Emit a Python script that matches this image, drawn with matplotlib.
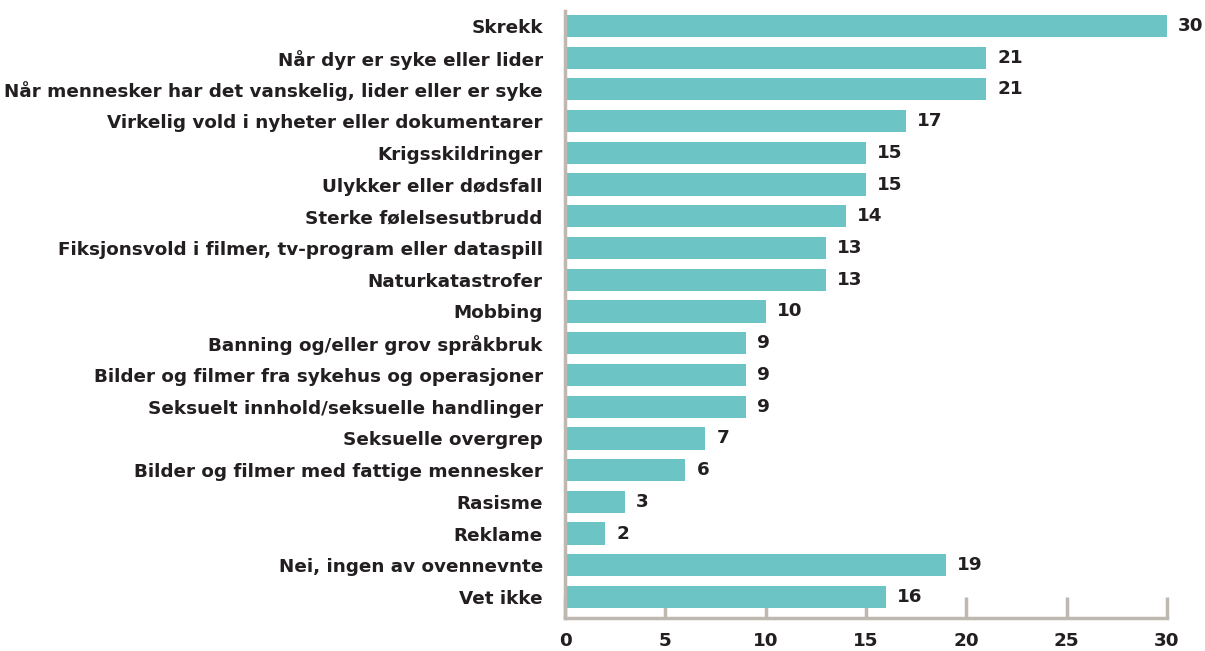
import matplotlib.pyplot as plt
import numpy as np

plt.rcParams['font.family'] = ['DejaVu Sans']

categories = [
    'Skrekk',
    'Når dyr er syke eller lider',
    'Når mennesker har det vanskelig, lider eller er syke',
    'Virkelig vold i nyheter eller dokumentarer',
    'Krigsskildringer',
    'Ulykker eller dødsfall',
    'Sterke følelsesutbrudd',
    'Fiksjonsvold i filmer, tv-program eller dataspill',
    'Naturkatastrofer',
    'Mobbing',
    'Banning og/eller grov språkbruk',
    'Bilder og filmer fra sykehus og operasjoner',
    'Seksuelt innhold/seksuelle handlinger',
    'Seksuelle overgrep',
    'Bilder og filmer med fattige mennesker',
    'Rasisme',
    'Reklame',
    'Nei, ingen av ovennevnte',
    'Vet ikke',
]
values = [30, 21, 21, 17, 15, 15, 14, 13, 13, 10, 9, 9, 9, 7, 6, 3, 2, 19, 16]
xticks = [0, 5, 10, 15, 20, 25, 30]

bar_color = '#6cc5c4'
text_color = '#231f20'
axis_color = '#bfb8b0'
fs = 13.2

fig = plt.figure(figsize=(12.05, 6.51), dpi=100)
ax = fig.add_axes([565 / 1205, 33 / 651, 602 / 1205, 607 / 651])
ax.set_axisbelow(True)

y = np.arange(len(categories))
ax.barh(y, values, height=0.7, color=bar_color, zorder=2)

# value labels to the right of each bar
for yi, v in zip(y, values):
    ax.text(v + 0.55, yi, str(v), va='center', ha='left', fontsize=fs,
            fontweight='bold', color=text_color)

ax.set_xlim(0, 30)
ax.set_ylim(len(categories) - 1 + 0.66, -0.47)
ax.set_yticks(y)
ax.set_yticklabels(categories, fontsize=fs, fontweight='bold', color=text_color)
ax.tick_params(axis='y', length=0, pad=16)

ax.set_xticks(xticks)
ax.set_xticklabels([str(t) for t in xticks], fontsize=fs, fontweight='bold',
                   color=text_color)
ax.tick_params(axis='x', direction='in', length=15, width=2.5,
               color=axis_color, pad=10)

for side in ['top', 'right']:
    ax.spines[side].set_visible(False)
for side in ['left', 'bottom']:
    ax.spines[side].set_color(axis_color)
    ax.spines[side].set_linewidth(2.5)

fig.savefig('out.png', dpi=100)
